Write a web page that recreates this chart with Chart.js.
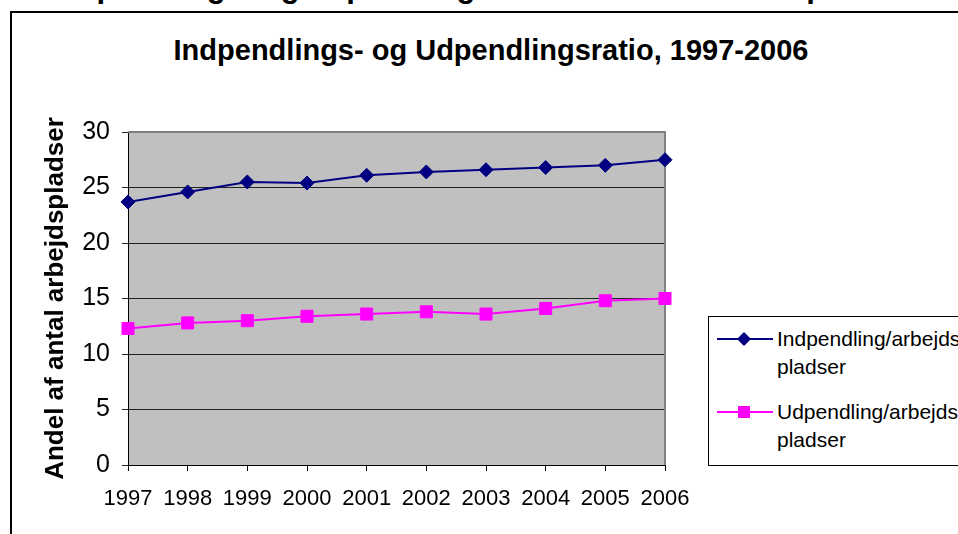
<!DOCTYPE html>
<html>
<head>
<meta charset="utf-8">
<script src="https://cdn.jsdelivr.net/npm/chart.js@4.4.1/dist/chart.umd.min.js"></script>
<style>
  body { margin:0; width:958px; height:534px; overflow:hidden; background:#fff; position:relative;
         font-family:"Liberation Sans", Arial, sans-serif; }
  .topcut { position:absolute; left:50px; top:-29px; font-weight:bold; font-size:31px; line-height:31px; white-space:nowrap; color:#000; }
  .frame { position:absolute; left:10px; top:11px; width:1000px; height:600px; border:2px solid #000; }
  .title { position:absolute; left:0; width:982px; top:35px; text-align:center; font-weight:bold; font-size:29px; line-height:30px; color:#000; white-space:nowrap; }
  #chart { position:absolute; left:0; top:0; }
  .legend { position:absolute; left:708px; top:316px; width:320px; height:148px; border:1px solid #000; background:#fff; }
  .legend-item { position:absolute; left:6px; font-size:21px; line-height:28px; color:#000; white-space:nowrap; }
  .legend-item svg { position:absolute; left:0; top:0; }
  .legend-item div { margin-left:62px; }
</style>
</head>
<body>
<div class="topcut">Indpendlings- og udpendlingsratio 1997-2006 samt pendlere</div>
<div class="frame"></div>
<div class="title">Indpendlings- og Udpendlingsratio, 1997-2006</div>
<canvas id="chart" width="958" height="534"></canvas>
<div class="legend" id="legend"></div>
<script>
const years = ['1997','1998','1999','2000','2001','2002','2003','2004','2005','2006']
const indpendling = [23.7, 24.6, 25.5, 25.4, 26.1, 26.4, 26.6, 26.8, 27.0, 27.5]
const udpendling = [12.3, 12.8, 13.0, 13.4, 13.6, 13.8, 13.6, 14.1, 14.8, 15.0]
const legendLines = [['Indpendling/arbejds','pladser'], ['Udpendling/arbejds','pladser']]
const yTitle = 'Andel af antal arbejdspladser'

const plotBg = {
  id: 'plotBg',
  beforeDraw(chart){
    const {ctx, chartArea:a} = chart
    ctx.save()
    ctx.fillStyle = '#c0c0c0'
    ctx.fillRect(a.left, a.top, a.width, a.height)
    ctx.restore()
  },
  beforeDatasetsDraw(chart){
    const {ctx, chartArea:a} = chart
    ctx.save()
    ctx.strokeStyle = '#808080'
    ctx.lineWidth = 2
    ctx.beginPath()
    ctx.moveTo(a.left, a.top)
    ctx.lineTo(a.right, a.top)
    ctx.lineTo(a.right, a.bottom)
    ctx.stroke()
    ctx.restore()
  }
}

const chart = new Chart(document.getElementById('chart'), {
  type: 'line',
  data: {
    labels: years,
    datasets: [{
      label: 'Indpendling/arbejdspladser',
      data: indpendling,
      borderColor: '#000080',
      backgroundColor: '#000080',
      borderWidth: 2,
      pointStyle: 'rectRot',
      pointRadius: 7,
      pointBorderWidth: 1,
      tension: 0,
      clip: false
    }, {
      label: 'Udpendling/arbejdspladser',
      data: udpendling,
      borderColor: '#ff00ff',
      backgroundColor: '#ff00ff',
      borderWidth: 2,
      pointStyle: 'rect',
      pointRadius: 8.5,
      pointBorderWidth: 1,
      tension: 0,
      clip: false
    }]
  },
  options: {
    responsive: false,
    animation: false,
    layout: { padding: { left: 0, top: 132, right: 293, bottom: 0 } },
    plugins: { legend: { display: false }, title: { display: false }, tooltip: { enabled: false } },
    scales: {
      x: {
        offset: false,
        afterFit(scale){ scale.height = 69 },
        grid: { drawOnChartArea: false, tickLength: 6, color: '#000' },
        border: { color: '#000', width: 1 },
        ticks: { color: '#000', font: { family: 'Liberation Sans', size: 22 }, padding: 15, maxRotation: 0, autoSkip: false }
      },
      y: {
        min: 0, max: 30,
        afterFit(scale){ scale.width = 128 },
        grid: { color: '#222', tickLength: 6 },
        border: { color: '#000', width: 1 },
        ticks: { stepSize: 5, color: '#000', font: { family: 'Liberation Sans', size: 25 }, padding: 12 },
        title: { display: true, text: yTitle, color: '#000', font: { family: 'Liberation Sans', size: 26, weight: 'bold' }, padding: { top: 40, bottom: 0 } }
      }
    }
  },
  plugins: [plotBg]
})

// legend built from the chart datasets
const legendEl = document.getElementById('legend')
const tops = [8, 81]
chart.data.datasets.forEach((ds, i) => {
  const item = document.createElement('div')
  item.className = 'legend-item'
  item.style.top = tops[i] + 'px'
  let marker
  if (ds.pointStyle === 'rectRot') {
    marker = '<polygon points="29,7 36,14 29,21 22,14" fill="' + ds.backgroundColor + '"/>'
  } else {
    marker = '<rect x="23" y="8" width="12" height="12" fill="' + ds.backgroundColor + '"/>'
  }
  item.innerHTML = '<svg width="60" height="28"><line x1="2" y1="14" x2="58" y2="14" stroke="' + ds.borderColor + '" stroke-width="2"/>' + marker + '</svg>' +
    '<div>' + legendLines[i].join('<br>') + '</div>'
  legendEl.appendChild(item)
})
</script>
</body>
</html>
